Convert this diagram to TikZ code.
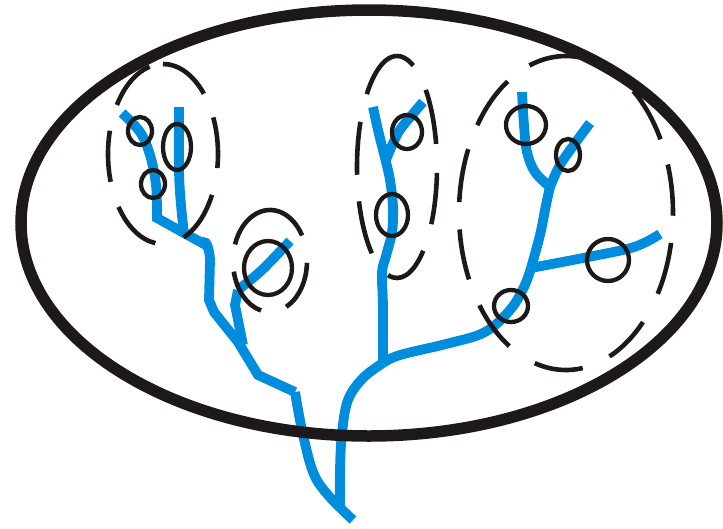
\documentclass[tikz,border=0pt]{standalone}
\definecolor{treeblue}{RGB}{0,141,221}
\definecolor{ink}{RGB}{30,25,25}
\begin{document}
\begin{tikzpicture}[x=1pt,y=-1pt,
  tree/.style={draw=treeblue, line width=9.8pt},
  ring/.style={draw=ink, line width=4.3pt},
  dashring/.style={draw=ink, line width=4.6pt},
  outer/.style={draw=ink, line width=11.5pt}]
\useasboundingbox (0,0) rectangle (723,528);
% ---- blue tree ----
% left subtree
\draw[tree] plot[smooth, tension=0.6] coordinates {(122,113) (140,132) (150,155) (156,185) (157,218)} -- (184,233);
\draw[tree] plot[smooth, tension=0.6] coordinates {(179,107) (179,170) (181,205) (184,233)};
\draw[tree] (184,233) -- (204,244) to[out=70,in=90] (210,260) -- (209,300) -- (214,312) -- (238,342) -- (258,375) -- (295,392)
  plot[smooth, tension=0.6] coordinates {(295,392) (302,430) (313,472) (328,495) (353,520)};
% small side branch
\draw[tree] (243,345) -- (235,305) -- (238,290) plot[smooth, tension=0.5] coordinates {(238,290) (262,270) (290,241)};
% middle trunk
\draw[tree] plot[smooth, tension=0.6] coordinates {(340,505) (340,470) (342,433) (348,400) (363,378) (383,363)};
\draw[tree] plot[smooth, tension=0.6] coordinates {(383,363) (383,307) (382,273) (386,256) (392,232) (393,207) (390,180) (385,158) (378,130) (373,107)};
\draw[tree] plot[smooth, tension=0.6] coordinates {(386,160) (398,133) (412,115) (423,102)};
% right trunk
\draw[tree] plot[smooth, tension=0.6] coordinates {(383,363) (400,355) (450,343) (485,332) (510,310) (524,287) (531,268)};
\draw[tree] plot[smooth, tension=0.6] coordinates {(531,268) (583,258) (627,249) (646,242) (660,234)};
\draw[tree] plot[smooth, tension=0.6] coordinates {(531,268) (540,235) (546,205) (550,187)};
\draw[tree] plot[smooth, tension=0.6] coordinates {(550,187) (535,172) (527,152) (524,125) (522,92)};
\draw[tree] plot[smooth, tension=0.6] coordinates {(550,187) (560,165) (576,142) (590,123)};
% ---- outer ellipse ----
\draw[outer] (369,223) ellipse [x radius=348, y radius=213];
% ---- small solid rings ----
\draw[ring] (140,131) ellipse [x radius=12, y radius=14];
\draw[ring] (177,147) ellipse [x radius=14, y radius=23];
\draw[ring] (153,184) ellipse [x radius=12, y radius=14];
\draw[ring] (268,268) ellipse [x radius=24, y radius=27];
\draw[ring] (407,132) ellipse [x radius=15, y radius=17];
\draw[ring] (392,215) ellipse [x radius=16, y radius=21];
\draw[ring] (526,125) ellipse [x radius=20, y radius=19];
\draw[ring] (568,155) ellipse [x radius=12, y radius=16];
\draw[ring] (608,260) ellipse [x radius=21, y radius=21];
\draw[ring] (511,306) ellipse [x radius=17, y radius=16];
% ---- dashed groupings (each dash as an arc) ----
\foreach \a/\b in {213/256, 270/318, 336/369, 27/68, 98/144, 162/195}
  \draw[dashring] (163,154) ++(\a:55 and 90) arc[start angle=\a, end angle=\b, x radius=55, y radius=90];
\foreach \a/\b in {199/330, 2/64, 104/168}
  \draw[dashring] (270,261) ++(\a:37 and 51) arc[start angle=\a, end angle=\b, x radius=37, y radius=51];
\foreach \a/\b in {221/294, 316/348, 3/31, 49/103, 129/162, 176/204}
  \draw[dashring] (397,167) ++(\a:40 and 111) arc[start angle=\a, end angle=\b, x radius=40, y radius=111];
\foreach \a/\b in {250/290, 309/332, 342/361, 11/31, 44/66, 81/107, 122/144, 155/174, 184/204, 214/237}
  \draw[dashring] (566,213) ++(\a:107 and 157) arc[start angle=\a, end angle=\b, x radius=107, y radius=157];
\end{tikzpicture}
\end{document}
